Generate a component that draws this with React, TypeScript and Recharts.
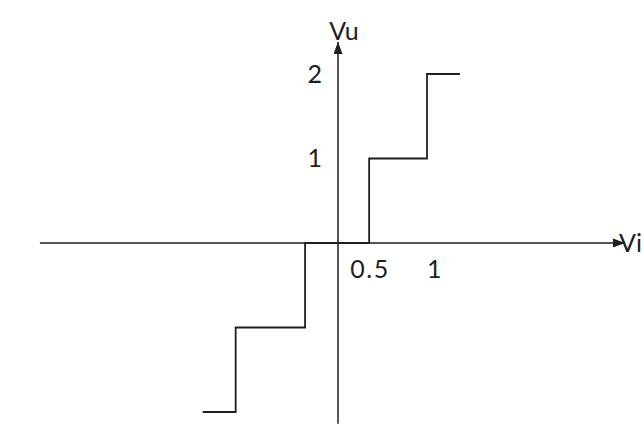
import { LineChart, Line, XAxis, YAxis, ReferenceLine, ReferenceDot } from 'recharts'

// staircase transfer curve Vu(Vi)
const stairVi = [-1.52, -1.15, -1.15, -0.37, -0.37, 0.35, 0.35, 1.0, 1.0, 1.37]
const stairVu = [-2, -2, -1, -1, 0, 0, 1, 1, 2, 2]

// tick marks (the sketch is not to scale, so 0.5 sits where it was drawn)
const xTicks = [0.36, 1.09]
const xTickLabels = ['0.5', '1']
const yTicks = [1, 2]
const yTickLabels = ['1', '2']

const data = stairVi.map((vi, i) => ({ vi, vu: stairVu[i] }))

const ink = '#1e1e1e'

function AxisName({ viewBox, text, dx, dy, anchor }: any) {
  return (
    <text x={viewBox.x + dx} y={viewBox.y + dy} textAnchor={anchor} fontSize={25} fill={ink}>
      {text}
    </text>
  )
}

export default function App() {
  return (
    <div style={{ position: 'absolute', left: 0, top: 0, background: '#fff', fontFamily: 'Lato, sans-serif' }}>
      <LineChart width={643} height={426} data={data} margin={{ top: 0, right: 0, bottom: 0, left: 0 }}>
        <defs>
          <marker id="arrowHead" viewBox="0 0 12 9" refX="12" refY="4.5" markerWidth="12" markerHeight="9"
            markerUnits="userSpaceOnUse" orient="auto">
            <path d="M0,0 L12,4.5 L0,9 z" fill={ink} />
          </marker>
        </defs>
        <XAxis dataKey="vi" type="number" domain={[-3.798, 3.427]} allowDataOverflow hide />
        <YAxis type="number" domain={[-2.166, 2.876]} allowDataOverflow hide />

        {/* axes through the origin */}
        <ReferenceLine segment={[{ x: -3.35, y: 0 }, { x: 3.225, y: 0 }]} stroke={ink} strokeWidth={1.5}
          markerEnd="url(#arrowHead)" />
        <ReferenceLine segment={[{ x: 0, y: -2.14 }, { x: 0, y: 2.38 }]} stroke={ink} strokeWidth={1.5}
          markerEnd="url(#arrowHead)" />

        <Line dataKey="vu" type="linear" stroke={ink} strokeWidth={1.8} dot={false} activeDot={false}
          isAnimationActive={false} />

        <ReferenceDot x={0} y={2.38} r={0}
          label={(p: any) => <AxisName {...p} text="Vu" dx={6} dy={-2} anchor="middle" />} />
        <ReferenceDot x={3.225} y={0} r={0}
          label={(p: any) => <AxisName {...p} text="Vi" dx={-6} dy={9} anchor="start" />} />

        {xTicks.map((t, i) => (
          <ReferenceDot key={'x' + t} x={t} y={0} r={0}
            label={{ value: xTickLabels[i], position: 'bottom', offset: 17, fontSize: 25, letterSpacing: 1.5, fill: ink }} />
        ))}
        {yTicks.map((t, i) => (
          <ReferenceDot key={'y' + t} x={0} y={t} r={0}
            label={{ value: yTickLabels[i], position: 'left', offset: 16, fontSize: 25, fill: ink }} />
        ))}
      </LineChart>
    </div>
  )
}
